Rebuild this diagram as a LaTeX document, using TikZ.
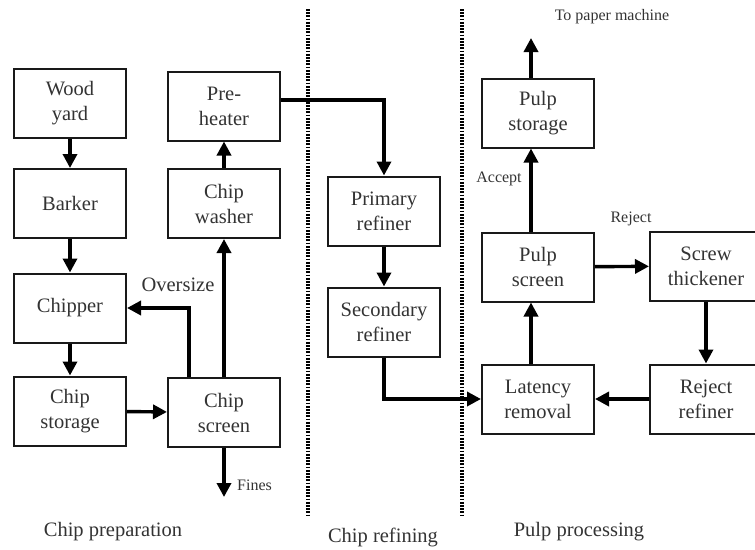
\documentclass[tikz,border=0pt]{standalone}
\usepackage{fontspec}
\setmainfont{Liberation Serif}
\usetikzlibrary{arrows.meta}
\definecolor{txt}{HTML}{333333}
\tikzset{
  box/.style={draw=black!90, line width=2pt, minimum width=112pt, minimum height=69pt,
    align=center, inner sep=0pt, text=txt, font=\fontsize{20.5}{25}\selectfont},
  arr/.style={line width=3.4pt, -{Triangle[length=14pt,width=14pt]}},
  lbl/.style={text=txt, font=\fontsize{20.5}{25}\selectfont, inner sep=0pt},
  slbl/.style={text=txt, font=\fontsize{16}{19}\selectfont, inner sep=0pt},
  sep/.style={line width=3.2pt, dash pattern=on 1.8pt off 1.4pt}
}
\begin{document}
\begin{tikzpicture}[x=1pt,y=-1pt]
\useasboundingbox (0,0) rectangle (755,549);
\clip (0,0) rectangle (755,549);
% separators
\coordinate (s1t) at (308,9); \coordinate (s1b) at (308,517);
\coordinate (s2t) at (462,9); \coordinate (s2b) at (462,517);
\draw[sep] (s1t) -- (s1b);
\draw[sep] (s2t) -- (s2b);
% chip preparation
\node[box] (wy) at (70,103.5) {Wood\\yard};
\node[box] (bk) at (70,203.5) {Barker};
\node[box] (chp) at (70,308) {Chipper};
\node[box] (cst) at (70,411) {Chip\\storage};
\node[box] (ph) at (224,106) {Pre-\\heater};
\node[box] (cw) at (224,203.5) {Chip\\washer};
\node[box] (cs) at (224,412.5) {Chip\\screen};
% chip refining
\node[box] (pr) at (384,211) {Primary\\refiner};
\node[box] (sr) at (384,322) {Secondary\\refiner};
% pulp processing
\node[box] (pst) at (538,113) {Pulp\\storage};
\node[box] (psc) at (538,267) {Pulp\\screen};
\node[box] (lr) at (538,399) {Latency\\removal};
\node[box] (st) at (706,266) {Screw\\thickener};
\node[box] (rr) at (706,399) {Reject\\refiner};
% connectors
\draw[arr] (wy) -- (bk);
\draw[arr] (bk) -- (chp);
\draw[arr] (chp) -- (cst);
\draw[arr] (cst) -- (cs);
\draw[arr] ([xshift=-35pt]cs.north) |- (chp.east);
\draw[arr] (cs) -- (cw);
\draw[arr] (cw) -- (ph);
\coordinate (fines) at (224,497);
\draw[arr] (cs) -- (fines);
\draw[arr] ([yshift=6pt]ph.east) -| (pr.north);
\draw[arr] (pr) -- (sr);
\draw[arr] (sr.south) |- (lr.west);
\draw[arr] ([xshift=-7pt]lr.north) -- ([xshift=-7pt]psc.south);
\draw[arr] ([xshift=-7pt]psc.north) -- ([xshift=-7pt]pst.south);
\coordinate (tpm) at (531,38);
\draw[arr] ([xshift=-7pt]pst.north) -- (tpm);
\draw[arr] (psc) -- (st);
\draw[arr] (st) -- (rr);
\draw[arr] (rr) -- (lr);
% labels
\node[lbl] (lov) at (178,285) {Oversize};
\node[slbl, anchor=west] (lfi) at (237,485) {Fines};
\node[slbl] (ltp) at (612,17) {To paper machine};
\node[slbl] (lac) at (499,179) {Accept};
\node[slbl] (lre) at (631,219) {Reject};
\node[lbl] (sec1) at (113,532) {Chip preparation};
\node[lbl] (sec2) at (383,537) {Chip refining};
\node[lbl] (sec3) at (579,532) {Pulp processing};
\end{tikzpicture}
\end{document}
